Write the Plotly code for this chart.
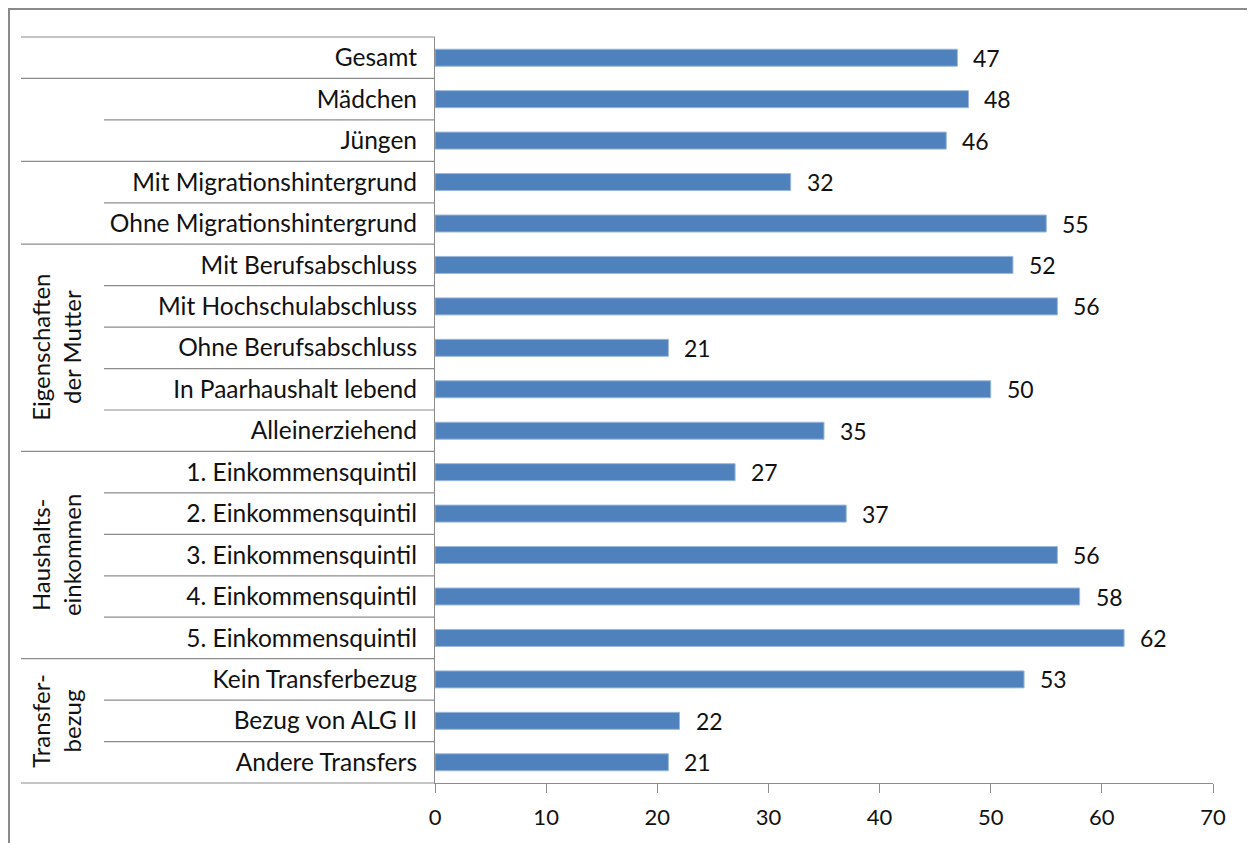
import plotly.graph_objects as go

categories = [
    "Gesamt", "Mädchen", "Jüngen", "Mit Migrationshintergrund", "Ohne Migrationshintergrund",
    "Mit Berufsabschluss", "Mit Hochschulabschluss", "Ohne Berufsabschluss",
    "In Paarhaushalt lebend", "Alleinerziehend",
    "1. Einkommensquintil", "2. Einkommensquintil", "3. Einkommensquintil",
    "4. Einkommensquintil", "5. Einkommensquintil",
    "Kein Transferbezug", "Bezug von ALG II", "Andere Transfers",
]
values = [47, 48, 46, 32, 55, 52, 56, 21, 50, 35, 27, 37, 56, 58, 62, 53, 22, 21]
# group index of each category (for the divider lines)
groups = [0, 1, 1, 2, 2, 3, 3, 3, 3, 3, 4, 4, 4, 4, 4, 5, 5, 5]
group_labels = {3: "Eigenschaften<br>der Mutter", 4: "Haushalts-<br>einkommen", 5: "Transfer-<br>bezug"}
x_ticks = [0, 10, 20, 30, 40, 50, 60, 70]

FONT = "Lato"
TXT = "#111111"
LINE = "#8c8c8c"

# figure geometry (page body has an 8px margin)
W, H = 1247, 835
ML, MR, MT, MB = 427, 42, 29, 60
PW, PH = W - ML - MR, H - MT - MB


def px_x(p):  # figure pixel -> paper x
    return (p - ML) / PW


def px_y(p):  # figure pixel -> paper y
    return (H - MB - p) / PH


fig = go.Figure(go.Bar(
    x=values, y=categories, orientation="h",
    marker=dict(color="#4F81BD", line=dict(color="#9bb7db", width=1)),
    width=0.41, hoverinfo="skip",
))

# value labels
for c, v in zip(categories, values):
    fig.add_annotation(x=v, y=c, text=str(v), xanchor="left", xshift=14, showarrow=False,
                       font=dict(family=FONT, size=23, color=TXT))

# divider lines in the category area
n = len(categories)
shapes = []
for i in range(n + 1):
    yb = i - 0.5
    yp = (n - 0.5 - yb) / n
    if i == 0 or i == n or groups[i] != groups[i - 1]:
        x0 = px_x(13)
    else:
        x0 = px_x(96)
    shapes.append(dict(type="line", xref="paper", yref="paper", x0=x0, x1=0,
                       y0=yp, y1=yp, line=dict(color=LINE, width=1.2)))

# group labels
for g, lab in group_labels.items():
    idx = [i for i, gg in enumerate(groups) if gg == g]
    ymid = (idx[0] + idx[-1]) / 2
    fig.add_annotation(xref="paper", x=px_x(48), y=ymid, yref="y", text=lab,
                       xanchor="center", yanchor="middle",
                       textangle=-90, showarrow=False, align="center",
                       font=dict(family=FONT, size=24, color=TXT))

# outer frame
shapes.append(dict(type="rect", xref="paper", yref="paper",
                   x0=px_x(1), x1=px_x(1245), y0=px_y(860), y1=px_y(1),
                   line=dict(color="#8a8a8a", width=2), layer="below"))

fig.update_layout(
    width=W, height=H,
    margin=dict(l=ML, r=MR, t=MT, b=MB),
    paper_bgcolor="white", plot_bgcolor="white",
    showlegend=False, shapes=shapes,
    font=dict(family=FONT, color=TXT),
    xaxis=dict(range=[0, 70], tickvals=x_ticks, ticktext=[str(t) for t in x_ticks],
               showgrid=False, zeroline=False, showline=True, linecolor=LINE, linewidth=1.2,
               ticks="outside", ticklen=9, tickcolor=LINE, tickwidth=1.2,
               tickfont=dict(family=FONT, size=22, color=TXT), ticklabelstandoff=5),
    yaxis=dict(categoryorder="array", categoryarray=categories, range=[n - 0.5, -0.5],
               showgrid=False, zeroline=False, showline=True, linecolor=LINE, linewidth=1.2,
               ticks="", tickfont=dict(family=FONT, size=24.5, color=TXT), ticklabelstandoff=12),
)

fig.write_html("out.html")
